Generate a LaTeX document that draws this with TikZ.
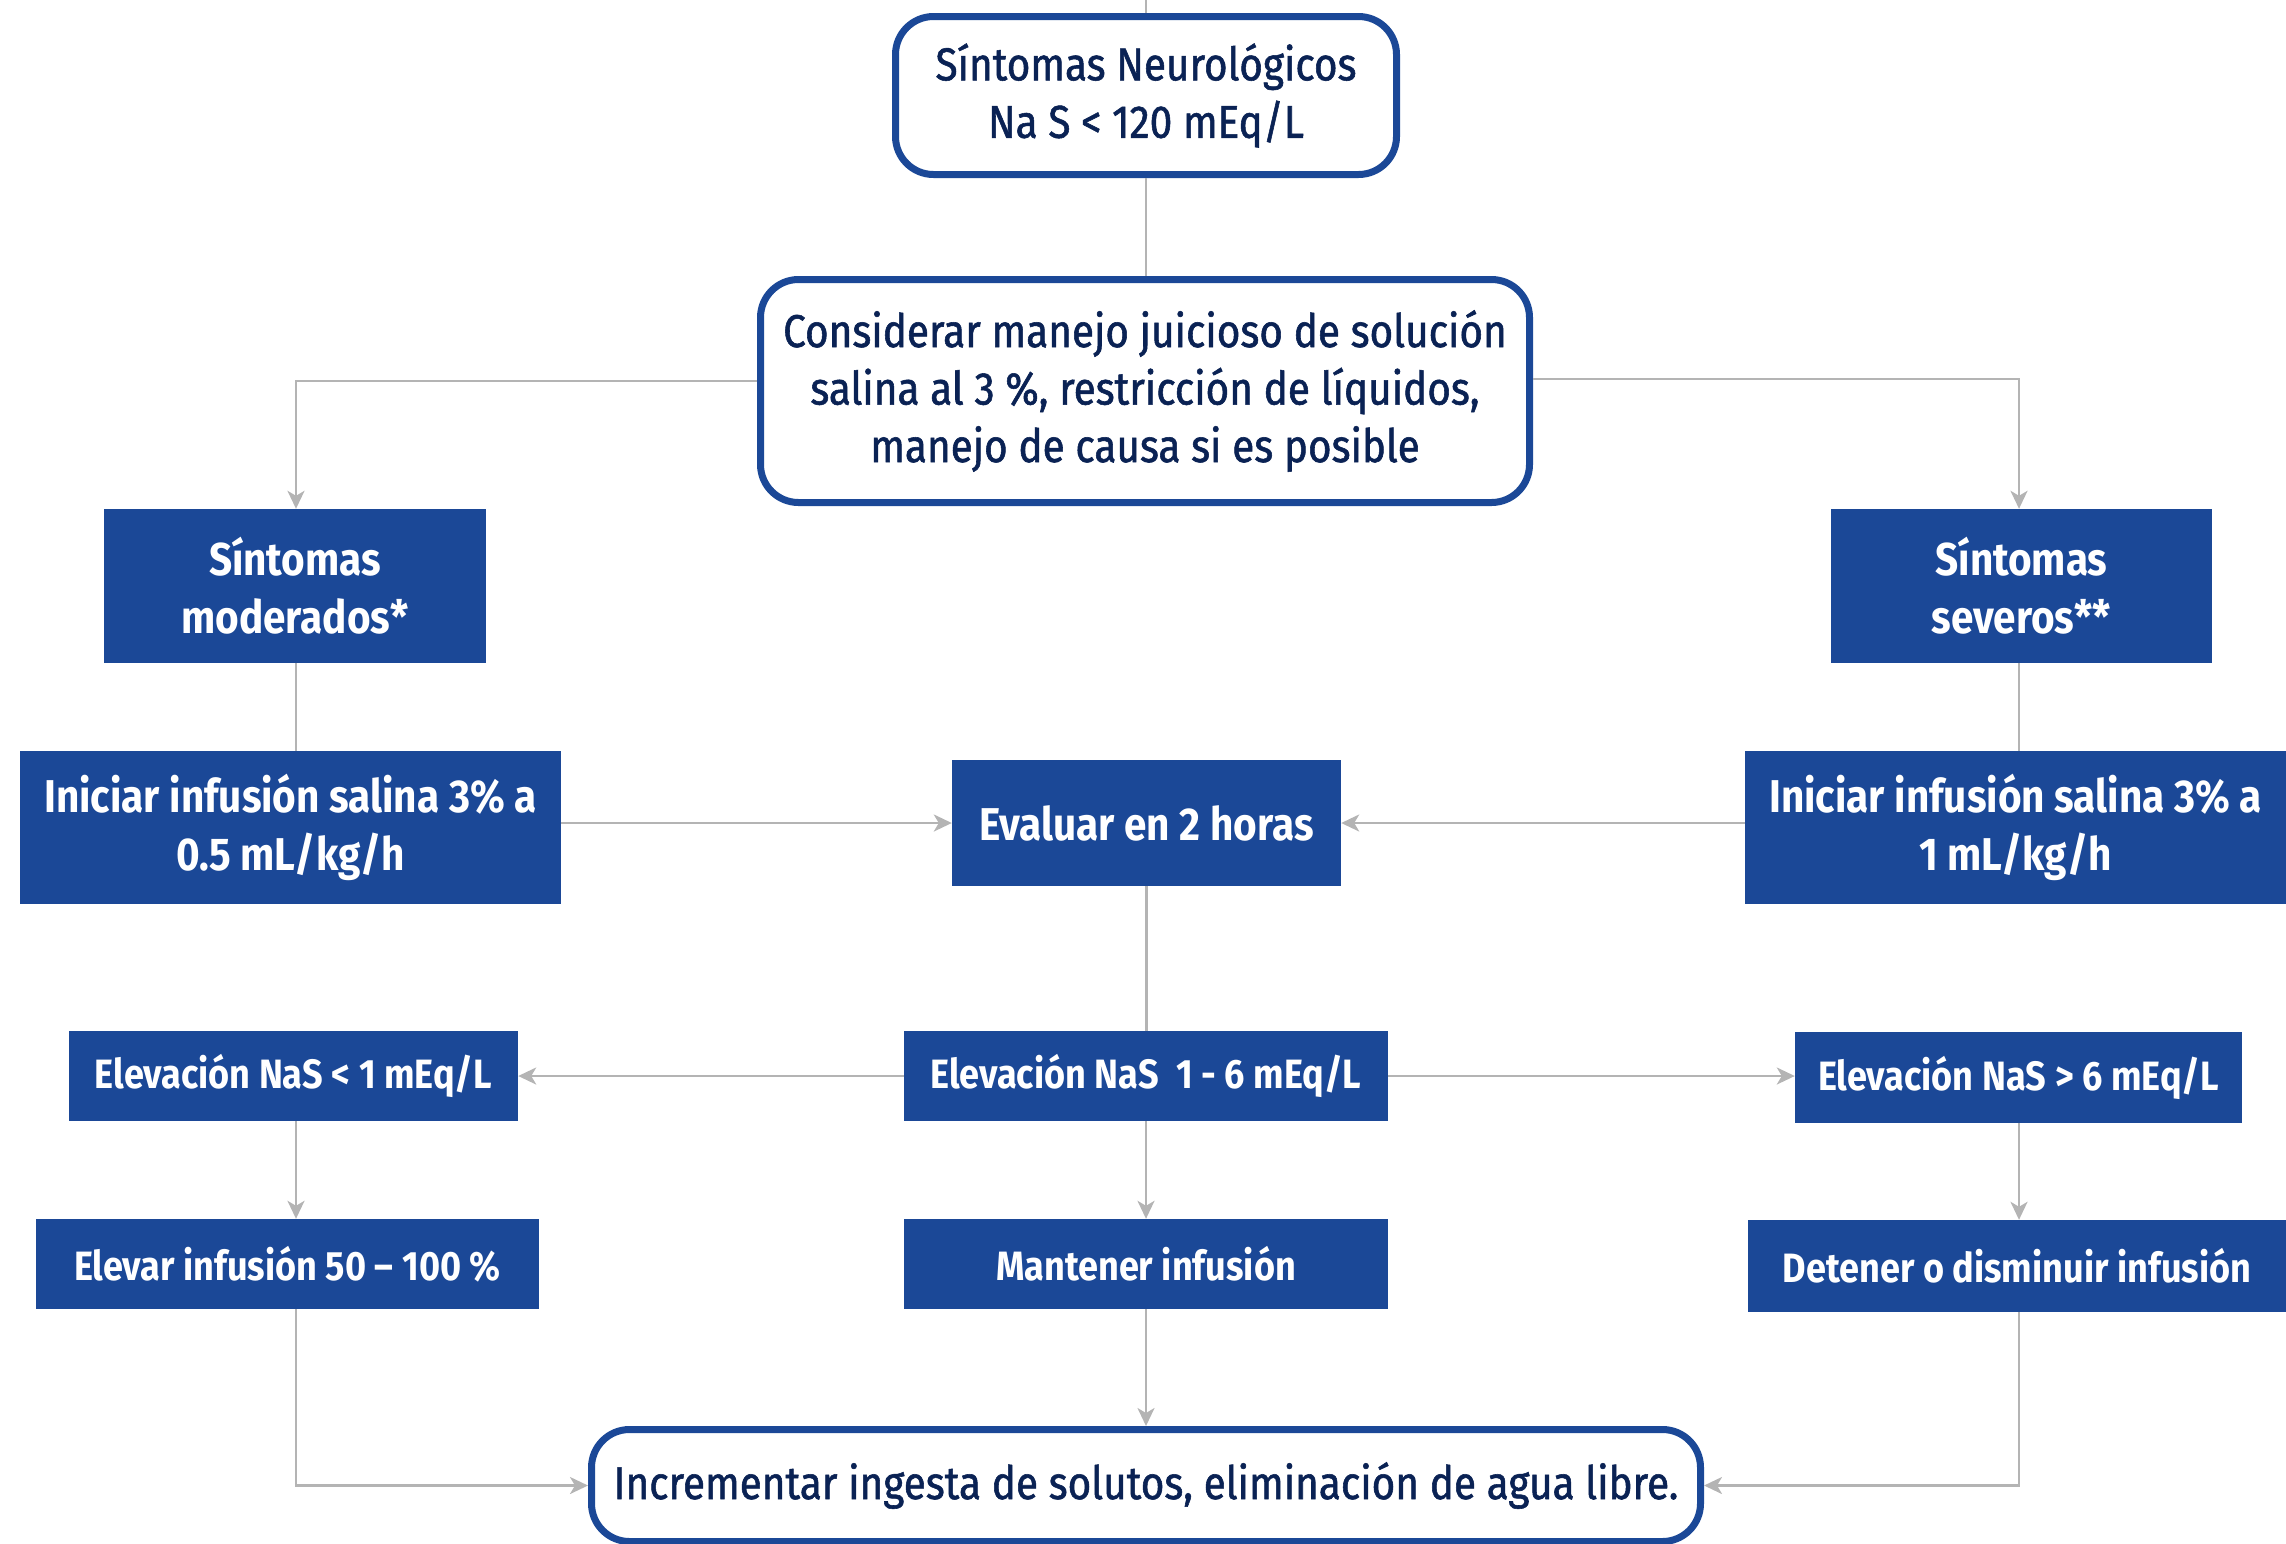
\documentclass[tikz,border=0pt]{standalone}
\usepackage{fontspec}
\setmainfont{Fira Sans}[FakeStretch=0.88]
\newfontfamily\medfont{Fira Sans}[FakeStretch=0.88, FakeBold=1.2]
\usetikzlibrary{arrows.meta}
\definecolor{boxblue}{RGB}{27,72,151}
\definecolor{navytext}{RGB}{10,34,84}
\definecolor{linegray}{RGB}{180,180,180}
\tikzset{
  rbox/.style={draw=boxblue, line width=7pt, rounded corners=38pt, fill=white, text=navytext,
    align=center, inner sep=0pt, font=\medfont\fontsize{46}{57.5}\selectfont},
  bbox/.style={fill=boxblue, text=white, align=center, inner sep=0pt,
    font=\bfseries\fontsize{46}{58}\selectfont},
  sbox/.style={bbox, font=\bfseries\fontsize{41}{48}\selectfont},
  conn/.style={draw=linegray, line width=2.6pt},
  arr/.style={conn, -{Stealth[length=18pt,width=17pt,inset=5pt]}},
}
\begin{document}
\begin{tikzpicture}[x=1pt,y=-1pt]
\useasboundingbox (0,0) rectangle (2286,1543);
% rounded boxes
\node[rbox, minimum width=501pt, minimum height=158pt] (top) at (1146,95.5)
  {Síntomas Neurológicos\\Na S < 120 mEq/L};
\node[rbox, minimum width=769pt, minimum height=223pt] (cons) at (1145,391)
  {Considerar manejo juicioso de solución\\salina al 3 \%, restricción de líquidos,\\manejo de causa si es posible};
\node[rbox, minimum width=1109pt, minimum height=112pt] (incr) at (1146,1485.5)
  {Incrementar ingesta de solutos, eliminación de agua libre.};
% blue boxes
\node[bbox, minimum width=382pt, minimum height=154pt] (modL) at (295,586) {Síntomas\\moderados*};
\node[bbox, minimum width=381pt, minimum height=154pt] (modR) at (2021.5,586) {Síntomas\\severos**};
\node[bbox, minimum width=541pt, minimum height=153pt] (iniL) at (290.5,827.5) {Iniciar infusión salina 3\% a\\0.5 mL/kg/h};
\node[bbox, minimum width=541pt, minimum height=153pt] (iniR) at (2015.5,827.5) {Iniciar infusión salina 3\% a\\1 mL/kg/h};
\node[bbox, minimum width=389pt, minimum height=126pt] (eval) at (1146.5,823) {Evaluar en 2 horas};
\node[sbox, minimum width=484pt, minimum height=90pt] (elevM) at (1146,1076) {Elevación NaS\ \ 1 - 6 mEq/L};
\node[sbox, minimum width=449pt, minimum height=90pt] (elevL) at (293.5,1076) {Elevación NaS < 1 mEq/L};
\node[sbox, minimum width=447pt, minimum height=91pt] (elevR) at (2018.5,1077.5) {Elevación NaS > 6 mEq/L};
\node[sbox, minimum width=503pt, minimum height=90pt] (elevar) at (287.5,1264) {Elevar infusión 50 – 100 \%};
\node[sbox, minimum width=484pt, minimum height=90pt] (mant) at (1146,1264) {Mantener infusión};
\node[sbox, minimum width=538pt, minimum height=92pt] (det) at (2017,1266) {Detener o disminuir infusión};
% connectors
\coordinate (topin) at (1146,0);
\coordinate (lcol) at (296,0);
\coordinate (rcol) at (2019,0);
\draw[conn] (topin) -- (top.north);
\draw[conn] (top.south) -- (top.south |- cons.north);
\draw[arr] (cons.west |- 0,381) -| (lcol |- modL.north);
\draw[arr] (cons.east |- 0,379) -| (rcol |- modR.north);
\draw[conn] (lcol |- modL.south) -- (lcol |- iniL.north);
\draw[conn] (rcol |- modR.south) -- (rcol |- iniR.north);
\draw[arr] (iniL.east |- eval.west) -- (eval.west);
\draw[arr] (iniR.west |- eval.east) -- (eval.east);
\draw[conn] (eval.south) -- (eval.south |- elevM.north);
\draw[arr] (elevM.west) -- (elevL.east |- elevM.west);
\draw[arr] (elevM.east) -- (elevR.west |- elevM.east);
\draw[arr] (lcol |- elevL.south) -- (lcol |- elevar.north);
\draw[arr] (elevM.south) -- (mant.north);
\draw[arr] (rcol |- elevR.south) -- (rcol |- det.north);
\draw[arr] (lcol |- elevar.south) |- (incr.west);
\draw[arr] (mant.south) -- (incr.north);
\draw[arr] (rcol |- det.south) |- (incr.east);
\end{tikzpicture}
\end{document}
